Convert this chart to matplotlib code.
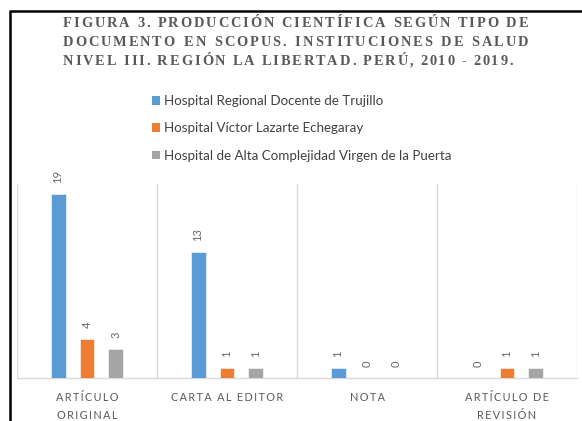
import matplotlib
matplotlib.use("Agg")
import matplotlib.pyplot as plt
from matplotlib.lines import Line2D
from matplotlib.patches import Patch
import numpy as np

# data
categories = ["ARTÍCULO\nORIGINAL", "CARTA AL EDITOR", "NOTA", "ARTÍCULO DE\nREVISIÓN"]
series_names = ["Hospital Regional Docente de Trujillo",
                "Hospital Víctor Lazarte Echegaray",
                "Hospital de Alta Complejidad Virgen de la Puerta"]
hrdt = [19, 13, 1, 0]
hvle = [4, 1, 0, 1]
hacvp = [3, 1, 0, 1]
title_lines = ["FIGURA 3. PRODUCCIÓN CIENTÍFICA SEGÚN TIPO DE",
               "DOCUMENTO EN SCOPUS. INSTITUCIONES DE SALUD",
               "NIVEL III. REGIÓN LA LIBERTAD. PERÚ, 2010 - 2019."]

colors = ["#5B9BD5", "#ED7D31", "#A5A5A5"]
W, H = 582, 421

def px(x):
    return x / W

def py(y):
    return 1 - y / H

def spaced(s, sep="\u2009"):
    return "\n".join(sep.join(line) for line in s.split("\n"))

fig = plt.figure(figsize=(W / 100, H / 100), dpi=100)
fig.patch.set_facecolor("white")

# frame lines (left and top of the boxed figure)
fig.add_artist(Line2D([px(9.5), px(9.5)], [py(11), 0], color="black", lw=1.8,
                      transform=fig.transFigure, solid_capstyle="butt"))
fig.add_artist(Line2D([px(8.6), 1], [py(11), py(11)], color="black", lw=1.8,
                      transform=fig.transFigure, solid_capstyle="butt"))

# title: letters placed one by one (tracking), lines justified
tkw = dict(family="Liberation Serif", weight="bold", size=10.4,
           color="#595959", va="baseline", ha="left")
renderer = fig.canvas.get_renderer()

def draw_line(text, y, x0, x1, track=1.9):
    words = []
    for w in text.split(" "):
        objs = [fig.text(0, py(y), ch, **tkw) for ch in w]
        ws = [o.get_window_extent(renderer).width for o in objs]
        words.append((objs, ws, sum(ws) + track * (len(ws) - 1)))
    gap = (x1 - x0 - sum(w[2] for w in words)) / (len(words) - 1)
    x = x0
    for objs, ws, total in words:
        xx = x
        for o, cw in zip(objs, ws):
            o.set_x(px(xx))
            xx += cw + track
        x += total + gap

draw_line(title_lines[0], 27, 63, 528)
draw_line(title_lines[1], 46, 63, 528)
draw_line(title_lines[2], 65, 63, 513)

# legend
handles = [Patch(facecolor=c, edgecolor="none") for c in colors]
fig.legend(handles, series_names, loc="upper left", bbox_to_anchor=(px(140), py(83)),
           frameon=False, ncol=1, handlelength=0.6, handleheight=0.6,
           handletextpad=0.3, labelspacing=1.15,
           prop={"family": ["Lato", "DejaVu Sans"], "size": 9.6},
           labelcolor="#404040")

# plot area
ax = fig.add_axes([px(17), py(378), px(577) - px(17), py(184) - py(378)])
x = np.arange(len(categories))
bw = 0.107
off = 0.207
for i, (vals, c) in enumerate(zip([hrdt, hvle, hacvp], colors)):
    pos = x + (i - 1) * off
    bars = ax.bar(pos, vals, width=bw, color=c, edgecolor="white", linewidth=0.4, zorder=3)
    for b, v in zip(bars, vals):
        ax.annotate(str(v), (b.get_x() + b.get_width() / 2, v), xytext=(0, 8),
                    textcoords="offset points", rotation=90, ha="center", va="bottom",
                    fontsize=8, color="#666666", annotation_clip=False,
                    family=["Lato", "DejaVu Sans"])

ax.set_xlim(-0.5, len(categories) - 0.5)
ax.set_ylim(0, 20)
for s in ["top", "right", "left"]:
    ax.spines[s].set_visible(False)
ax.spines["bottom"].set_color("#D9D9D9")
ax.spines["bottom"].set_linewidth(1.0)
for xs in np.arange(-0.5, len(categories), 1.0):
    ax.axvline(xs, color="#D9D9D9", lw=1.0, zorder=1)
ax.set_yticks([])
ax.set_xticks(x)
ax.set_xticklabels([spaced(c) for c in categories], fontsize=7.8, color="#595959",
                   linespacing=1.75, family=["Lato", "DejaVu Sans"])
ax.tick_params(axis="x", length=0, pad=10)

fig.savefig("out.png", dpi=100, facecolor="white")
